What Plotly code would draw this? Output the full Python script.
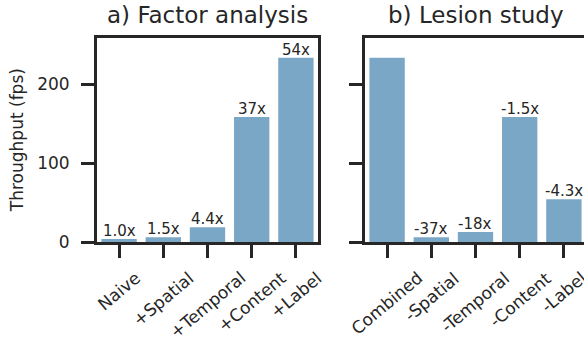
import plotly.graph_objects as go

# Throughput data (frames per second)
factor_labels = ["Naive", "+Spatial", "+Temporal", "+Content", "+Label"]
factor_fps = [4.33, 6.5, 19.1, 159, 234]
factor_text = ["1.0x", "1.5x", "4.4x", "37x", "54x"]

lesion_labels = ["Combined", "-Spatial", "-Temporal", "-Content", "-Label"]
lesion_fps = [234, 6.3, 13, 159, 54.6]
lesion_text = ["", "-37x", "-18x", "-1.5x", "-4.3x"]

y_ticks = [0, 100, 200]

W, H = 584, 339
INK = "#262626"
BAR = "#7ba7c7"
FONT = "DejaVu Sans"

def px_x(p):
    return p / W

def px_y(p):
    return 1 - p / H

y_dom = [px_y(242.3), px_y(38)]

fig = go.Figure()

fig.add_trace(go.Bar(
    x=list(range(len(factor_labels))), y=factor_fps, width=0.8,
    marker=dict(color=BAR, line=dict(width=0)),
    xaxis="x", yaxis="y", showlegend=False, hoverinfo="y",
))
fig.add_trace(go.Bar(
    x=list(range(len(lesion_labels))), y=lesion_fps, width=0.8,
    marker=dict(color=BAR, line=dict(width=0)),
    xaxis="x2", yaxis="y2", showlegend=False, hoverinfo="y",
))

axis_common = dict(
    showline=True, linecolor=INK, linewidth=3,
    ticks="outside", ticklen=13, tickwidth=2.5, tickcolor=INK,
    showgrid=False, zeroline=False, automargin=False,
    tickfont=dict(size=17, color=INK, family=FONT),
)

fig.update_layout(
    template="none",
    width=W, height=H, autosize=False,
    margin=dict(l=0, r=0, t=0, b=0, pad=0),
    paper_bgcolor="white", plot_bgcolor="white",
    bargap=0.2,
    font=dict(family=FONT, color=INK),
    xaxis=dict(domain=[px_x(97), px_x(318)], range=[-0.5, 4.5],
               tickvals=list(range(5)), showticklabels=False,
               mirror=True, anchor="y", **axis_common),
    yaxis=dict(domain=y_dom, range=[0, 259], tickvals=y_ticks,
               mirror=True, anchor="x", ticklabelstandoff=8, **axis_common),
    xaxis2=dict(domain=[px_x(365), 1.0], range=[-0.5, 4.455],
                tickvals=list(range(5)), showticklabels=False,
                mirror=True, anchor="y2", **axis_common),
    yaxis2=dict(domain=y_dom, range=[0, 259], tickvals=y_ticks,
                showticklabels=False, mirror=False, anchor="x2",
                **axis_common),
)

annotations = []
# speed-up labels sitting on top of each bar
for xref, yref, values, texts in (("x", "y", factor_fps, factor_text),
                                  ("x2", "y2", lesion_fps, lesion_text)):
    for i, (v, t) in enumerate(zip(values, texts)):
        if not t:
            continue
        annotations.append(dict(
            x=i, y=v, xref=xref, yref=yref, text=t, showarrow=False,
            xanchor="center", yanchor="bottom", yshift=-3,
            font=dict(size=15, color=INK, family=FONT),
        ))

# rotated category labels, centred under each tick
for xref, labels in (("x", factor_labels), ("x2", lesion_labels)):
    for i, lab in enumerate(labels):
        annotations.append(dict(
            x=i, y=y_dom[0], xref=xref, yref="paper",
            text=lab, showarrow=False, textangle=-40,
            xanchor="center", yanchor="top", yshift=-23,
            font=dict(size=17, color=INK, family=FONT),
        ))

# panel titles
annotations.append(dict(
    x=(px_x(97) + px_x(318)) / 2, y=px_y(15), xref="paper", yref="paper",
    text="a) Factor analysis", showarrow=False,
    xanchor="center", yanchor="middle",
    font=dict(size=23, color=INK, family=FONT),
))
annotations.append(dict(
    x=(px_x(365) + px_x(586)) / 2, y=px_y(15), xref="paper", yref="paper",
    text="b) Lesion study", showarrow=False,
    xanchor="center", yanchor="middle",
    font=dict(size=23, color=INK, family=FONT),
))

# y-axis title
annotations.append(dict(
    x=px_x(17), y=(y_dom[0] + y_dom[1]) / 2, xref="paper", yref="paper",
    text="Throughput (fps)", showarrow=False, textangle=-90,
    xanchor="center", yanchor="middle",
    font=dict(size=17, color=INK, family=FONT),
))

fig.update_layout(annotations=annotations)

fig.write_html("out.html")
